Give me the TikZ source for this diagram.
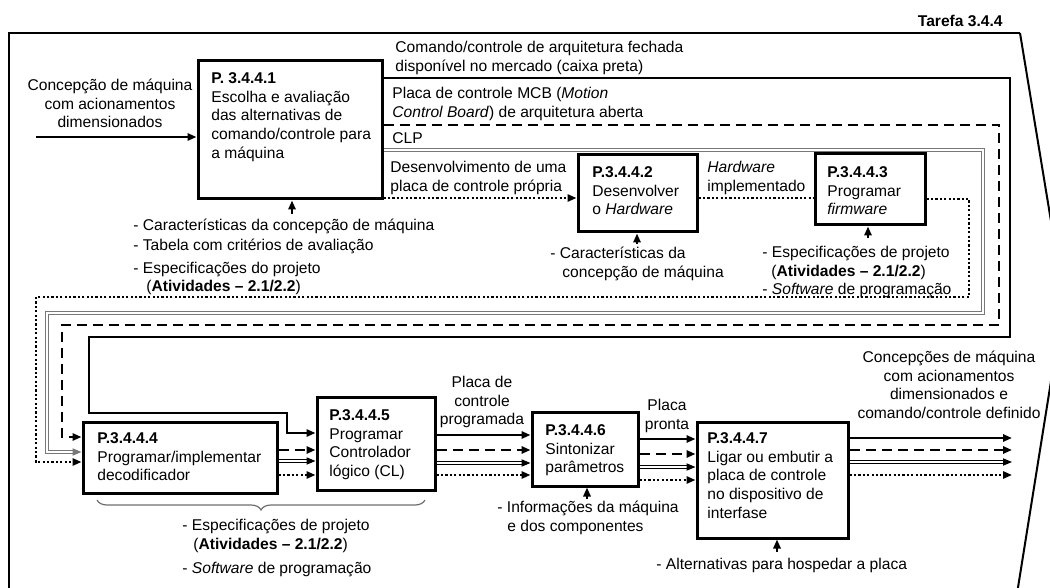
\documentclass[tikz,border=0pt]{standalone}
\usepackage{fontspec}
\setmainfont{Liberation Sans}
\usepackage{xcolor}
\usepackage{tikz}
\usetikzlibrary{arrows.meta,decorations.pathreplacing}
\definecolor{clpgray}{RGB}{120,120,120}
\definecolor{bracegray}{RGB}{110,110,110}

\begin{document}
\begin{tikzpicture}[x=0.5pt,y=-0.5pt, every node/.style={font=\fontsize{7.8}{9.4}\selectfont, inner sep=0pt}]
  \tikzstyle{procbox}=[draw, line width=1.5pt, inner sep=0pt]
  \tikzstyle{boxtext}=[anchor=north west, align=left]
  \tikzstyle{onetext}=[anchor=base west]
  \tikzstyle{midtext}=[anchor=north, align=center]
  \tikzstyle{tip}=[-{Triangle[length=4.5pt,width=3.6pt]}]
  \tikzstyle{fechada}=[line width=1.2pt]
  \tikzstyle{mcb}=[line width=1.2pt, dash pattern=on 5pt off 3pt]
  \tikzstyle{clp}=[draw=black, double=white, line width=0.6pt, double distance=1.1pt]
  \tikzstyle{propria}=[line width=1.1pt, dash pattern=on 1.1pt off 1.1pt]
  \useasboundingbox (0,0) rectangle (1050,588);
  % moldura da tarefa
  \draw[line width=1pt] (1020,33) -- (9,33) -- (9,600);
  \draw[line width=1pt] (1020,33) -- (1064,300) -- (1016,600);
  \node[font=\fontsize{7.8}{9.4}\selectfont\bfseries, anchor=base east] (tarefa) at (1003,27) {Tarefa 3.4.4};
  % processos
  \node[procbox, minimum width=92pt, minimum height=69pt] (p1) at (290,130) {};
  \node[procbox, minimum width=59.5pt, minimum height=38.5pt] (p2) at (637.5,193.5) {};
  \node[procbox, minimum width=55pt, minimum height=35.5pt] (p3) at (870,189.5) {};
  \node[procbox, minimum width=97pt, minimum height=35.5pt] (p4) at (180,457.5) {};
  \node[procbox, minimum width=59pt, minimum height=46.5pt] (p5) at (376,443.5) {};
  \node[procbox, minimum width=53pt, minimum height=37pt] (p6) at (585,449) {};
  \node[procbox, minimum width=75.5pt, minimum height=58pt] (p7) at (772.5,480) {};
  \node[boxtext] (t1) at (211,69.8) {\strut\textbf{P. 3.4.4.1}\\Escolha e avaliação\\das alternativas de\\comando/controle para\\a máquina};
  \node[boxtext] (t2) at (592,163.8) {\strut\textbf{P.3.4.4.2}\\Desenvolver\\o \textit{Hardware}};
  \node[boxtext] (t3) at (827,163.8) {\strut\textbf{P.3.4.4.3}\\Programar\\\textit{firmware}};
  \node[boxtext] (t4) at (97,429.8) {\strut\textbf{P.3.4.4.4}\\Programar/implementar\\decodificador};
  \node[boxtext] (t5) at (329,406.8) {\strut\textbf{P.3.4.4.5}\\Programar\\Controlador\\lógico (CL)};
  \node[boxtext] (t6) at (545,421.8) {\strut\textbf{P.3.4.4.6}\\Sintonizar\\parâmetros};
  \node[boxtext] (t7) at (707,429.8) {\strut\textbf{P.3.4.4.7}\\Ligar ou embutir a\\placa de controle\\no dispositivo de\\interfase};
  % entrada e saidas
  \coordinate (entrada) at (36,137);
  \node[midtext] (concep) at (110,76.8) {\strut Concepção de máquina\\com acionamentos\\dimensionados};
  \draw[fechada, tip] (entrada) -- (p1.west |- entrada);
  \node[boxtext] (fechadatxt) at (395,38.8) {\strut Comando/controle de arquitetura fechada\\disponível no mercado (caixa preta)};
  \node[boxtext] (mcbtxt) at (392,84.8) {\strut Placa de controle MCB (\textit{Motion}\\\textit{Control Board}) de arquitetura aberta};
  \node[onetext] (clptxt) at (392,144) {CLP};
  \node[boxtext] (propriatxt) at (390,158.8) {\strut Desenvolvimento de uma\\placa de controle própria};
  \node[boxtext] (hwtxt) at (707,158.8) {\strut\textit{Hardware}\\implementado};
  \node[midtext] (progtxt) at (482,373.8) {\strut Placa de\\controle\\programada};
  \node[midtext] (prontatxt) at (667,396.8) {\strut Placa\\pronta};
  \node[midtext] (saidatxt) at (949,348.8) {\strut Concepções de máquina\\com acionamentos\\dimensionados e\\comando/controle definido};
  % rotas das alternativas
  \draw[fechada, tip] (p1.east |- 0,78) -- (1010,78) -- (1010,337) -- (89,337) -- (89,413) -- (287,413) -- (287,433) -- (p5.west |- 0,433);
  \draw[mcb, tip] (p1.east |- 0,125) -- (999,125) -- (999,325) -- (62,325) -- (62,437) -- (p4.west |- 0,437);
  \draw[clp, draw=clpgray, tip] (p1.east |- 0,150) -- (983,150) -- (983,313) -- (47,313) -- (47,452) -- (p4.west |- 0,452);
  \draw[propria, tip] (p1.east |- 0,198) -- (p2.west |- 0,198);
  \draw[propria] (p2.east |- 0,198) -- (p3.west |- 0,198);
  \draw[propria, tip] (p3.east |- 0,199) -- (969,199) -- (969,297) -- (36,297) -- (36,462) -- (p4.west |- 0,462);
  % P.3.4.4.4 -> P.3.4.4.5
  \draw[mcb, tip] (p4.east |- 0,450) -- (p5.west |- 0,450);
  \draw[clp, tip] (p4.east |- 0,461) -- (p5.west |- 0,461);
  \draw[propria, tip] (p4.east |- 0,475) -- (p5.west |- 0,475);
  % P.3.4.4.5 -> P.3.4.4.6
  \draw[fechada, tip] (p5.east |- 0,435) -- (p6.west |- 0,435);
  \draw[mcb, tip] (p5.east |- 0,450) -- (p6.west |- 0,450);
  \draw[clp, tip] (p5.east |- 0,463) -- (p6.west |- 0,463);
  \draw[propria, tip] (p5.east |- 0,475) -- (p6.west |- 0,475);
  % P.3.4.4.6 -> P.3.4.4.7
  \draw[fechada, tip] (p6.east |- 0,439) -- (p7.west |- 0,439);
  \draw[mcb, tip] (p6.east |- 0,454) -- (p7.west |- 0,454);
  \draw[clp, tip] (p6.east |- 0,467) -- (p7.west |- 0,467);
  \draw[propria, tip] (p6.east |- 0,480) -- (p7.west |- 0,480);
  % saidas de P.3.4.4.7
  \coordinate (s1) at (1012,438);
  \coordinate (s2) at (1012,450);
  \coordinate (s3) at (1012,462);
  \coordinate (s4) at (1012,475);
  \draw[fechada, tip] (p7.east |- s1) -- (s1);
  \draw[mcb, tip] (p7.east |- s2) -- (s2);
  \draw[clp, tip] (p7.east |- s3) -- (s3);
  \draw[propria, tip] (p7.east |- s4) -- (s4);
  % controles
  \coordinate (c1) at (292,214);
  \coordinate (c2) at (637,244);
  \coordinate (c3) at (868,238);
  \coordinate (c6) at (587,499);
  \coordinate (c7) at (777,552);
  \draw[fechada, tip] (c1) -- (c1 |- p1.south);
  \draw[fechada, tip] (c2) -- (c2 |- p2.south);
  \draw[fechada, tip] (c3) -- (c3 |- p3.south);
  \draw[fechada, tip] (c6) -- (c6 |- p6.south);
  \draw[fechada, tip] (c7) -- (c7 |- p7.south);
  \node[boxtext] (ctrl1) at (133,216.8) {\strut - Características da concepção de máquina\\[0.6pt]- Tabela com critérios de avaliação\\[2pt]- Especificações do projeto\\\hspace*{6.5pt}(\textbf{Atividades -- 2.1/2.2})};
  \node[boxtext] (ctrl2) at (550,244.8) {\strut - Características da\\\hspace*{6pt}concepção de máquina};
  \node[boxtext] (ctrl3) at (762,243.8) {\strut - Especificações de projeto\\\hspace*{4.5pt}(\textbf{Atividades -- 2.1/2.2})\\- \textit{Software} de programação};
  \node[boxtext] (ctrl6) at (497,498.8) {\strut - Informações da máquina\\\hspace*{5pt}e dos componentes};
  \node[onetext] (ctrl7) at (656,569) {- Alternativas para hospedar a placa};
  \draw[decorate, decoration={brace, amplitude=5pt}, line width=0.6pt, bracegray] (425,500) -- (97,500);
  \node[boxtext] (ctrl45) at (182,516.8) {\strut - Especificações de projeto\\\hspace*{5.5pt}(\textbf{Atividades -- 2.1/2.2})\\[3pt]- \textit{Software} de programação};
\end{tikzpicture}
\end{document}
